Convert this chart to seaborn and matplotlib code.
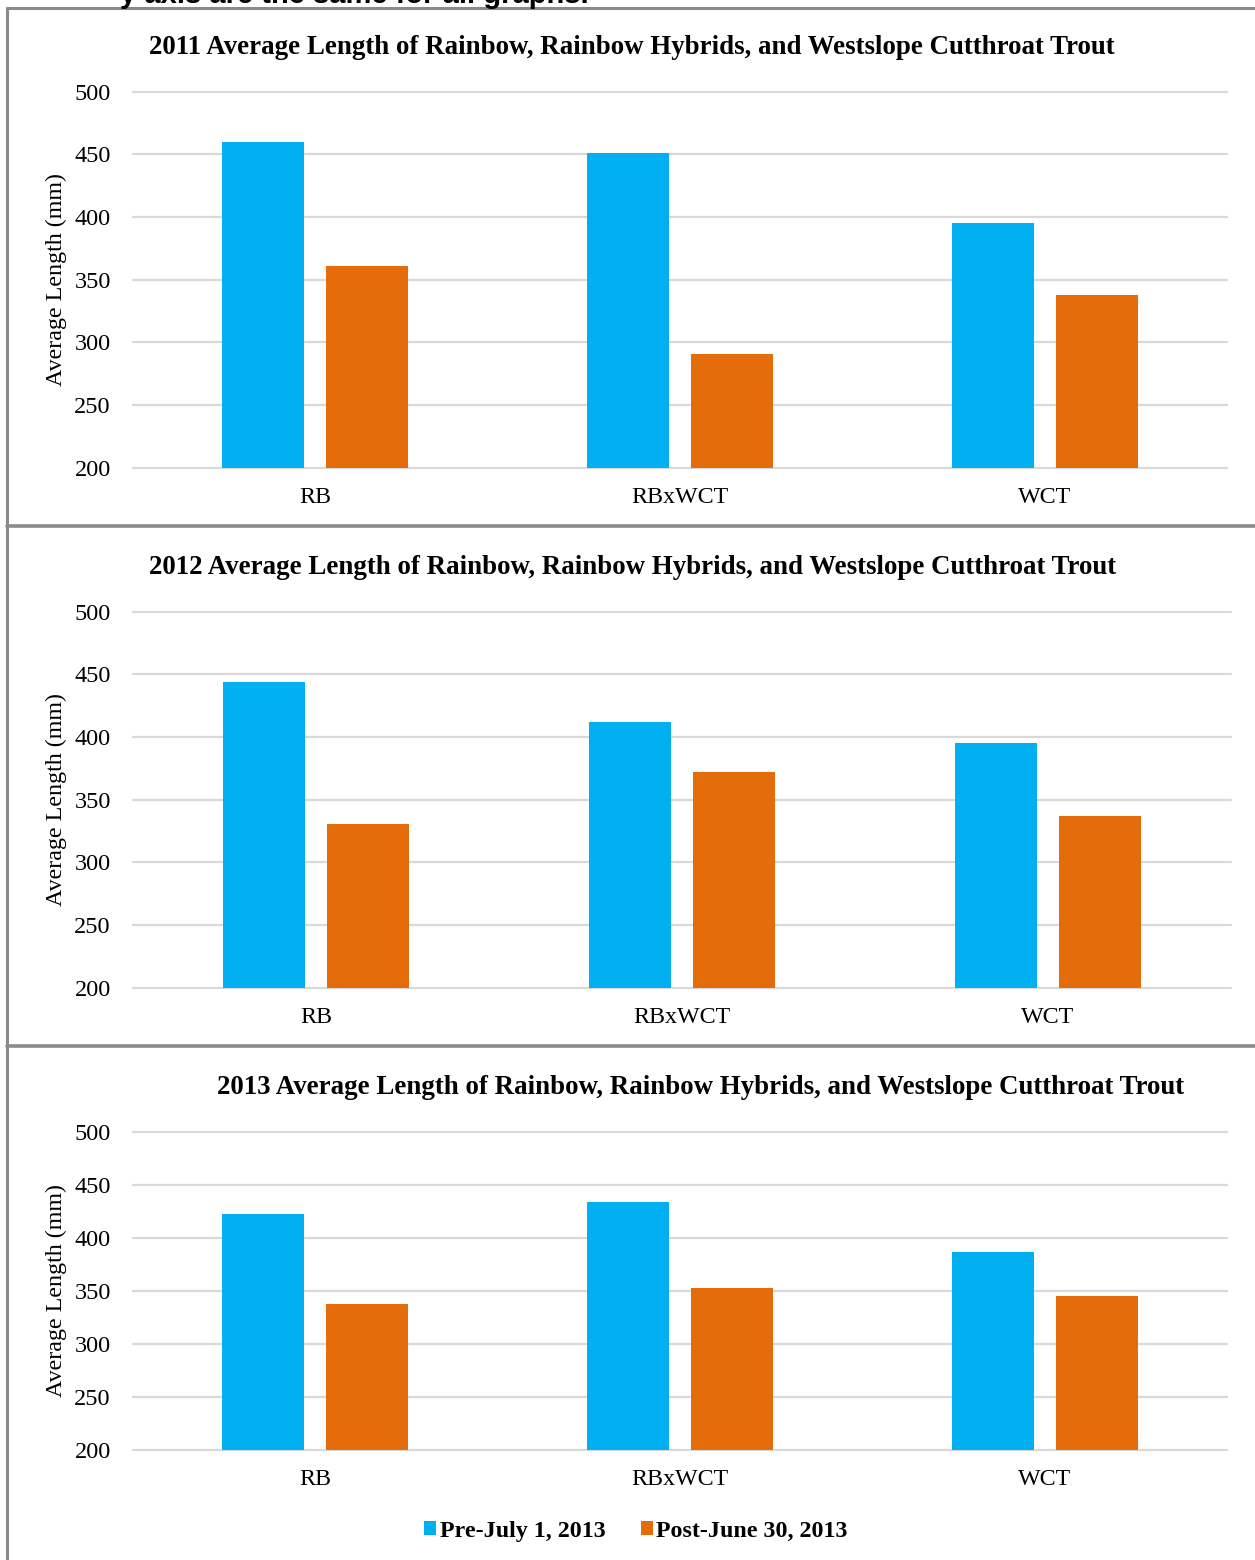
import matplotlib
matplotlib.use("Agg")
import matplotlib.pyplot as plt
from matplotlib.lines import Line2D
import pandas as pd
import seaborn as sns

# ---- data -------------------------------------------------------------
categories = ["RB", "RBxWCT", "WCT"]
periods = ["Pre-July 1, 2013", "Post-June 30, 2013"]
years = ["2011", "2012", "2013"]

pre_2011 = [460, 451, 395]
post_2011 = [361, 291, 338]
pre_2012 = [444, 412, 395]
post_2012 = [331, 372, 337]
pre_2013 = [422, 434, 387]
post_2013 = [338, 353, 345]

y_ticks = [200, 250, 300, 350, 400, 450, 500]
colors = ["#00B0F0", "#E46C0A"]

series = {
    "2011": (pre_2011, post_2011),
    "2012": (pre_2012, post_2012),
    "2013": (pre_2013, post_2013),
}

# ---- style ------------------------------------------------------------
sns.set_style("white")
plt.rcParams["font.family"] = ["Liberation Serif", "DejaVu Serif"]
plt.rcParams["text.color"] = "black"
plt.rcParams["xtick.color"] = "black"
plt.rcParams["ytick.color"] = "black"

W, H = 1255, 1560
fig = plt.figure(figsize=(W / 100, H / 100), dpi=100)


def fx(px):
    return px / W


def fy(py):
    return 1 - py / H


# axes boxes in pixels: (left, right, top, bottom)
boxes = [
    (133, 1227, 91.7, 467.7),
    (133, 1231, 611.7, 987.7),
    (133, 1227, 1131.7, 1450.0),
]
title_pos = [(631.5, 47), (633, 567), (701, 1087)]
grid_col = "#d9d9d9"

axes = []
for year, (l, r, t, b), (tx, ty) in zip(years, boxes, title_pos):
    pre, post = series[year]
    df = pd.DataFrame({
        "Species": categories * 2,
        "Period": [periods[0]] * 3 + [periods[1]] * 3,
        "Length": pre + post,
    })
    ax = fig.add_axes([fx(l), fy(b), fx(r - l), (b - t) / H])
    sns.barplot(data=df, x="Species", y="Length", hue="Period",
                order=categories, hue_order=periods, palette=colors,
                width=0.57, gap=0.21, saturation=1, linewidth=0,
                errorbar=None, ax=ax)
    ax.set_ylim(200, 500)
    ax.set_xlim(-0.5, 2.5)
    ax.set_yticks(y_ticks)
    ax.set_axisbelow(True)
    ax.yaxis.grid(True, color=grid_col, lw=1.6)
    for gl in ax.get_ygridlines():
        gl.set_clip_on(False)
    for s in ax.spines.values():
        s.set_visible(False)
    ax.tick_params(axis="y", length=0, pad=16, labelsize=17.5)
    ax.tick_params(axis="x", length=0, pad=14, labelsize=17.3)
    ax.set_xlabel("")
    ax.set_ylabel("")
    if ax.get_legend() is not None:
        handles, labels = ax.get_legend_handles_labels()
        ax.get_legend().remove()
    fig.text(fx(56), fy((t + b) / 2), "Average Length (mm)", rotation=90,
             ha="center", va="center", fontsize=17.3)
    fig.text(fx(tx), fy(ty),
             f"{year} Average Length of Rainbow, Rainbow Hybrids, and Westslope Cutthroat Trout",
             ha="center", va="center", fontsize=19.4, fontweight="bold")
    axes.append(ax)

# legend below the last chart
fig.legend(handles, labels, loc="center", bbox_to_anchor=(fx(636), fy(1531)),
           ncol=2, frameon=False,
           prop={"family": "Liberation Serif", "weight": "bold", "size": 17.3},
           handlelength=0.5, handleheight=0.5, handletextpad=0.15,
           columnspacing=1.45, borderaxespad=0)

# page note running off the top edge
fig.text(fx(120), fy(3), "y axis are the same for all graphs.",
         ha="left", va="baseline", fontsize=21, fontweight="bold",
         family=["Liberation Sans", "DejaVu Sans"])

# table borders around the three charts
border = "#8a8a8a"
fig.add_artist(Line2D([fx(7), fx(7)], [fy(8), 0], color=border, lw=2.2))
fig.add_artist(Line2D([fx(7), 1], [fy(8), fy(8)], color=border, lw=2.2))
for yy in (526, 1046):
    fig.add_artist(Line2D([fx(7), 1], [fy(yy), fy(yy)], color=border, lw=2.6))

fig.savefig("out.png", dpi=100)
